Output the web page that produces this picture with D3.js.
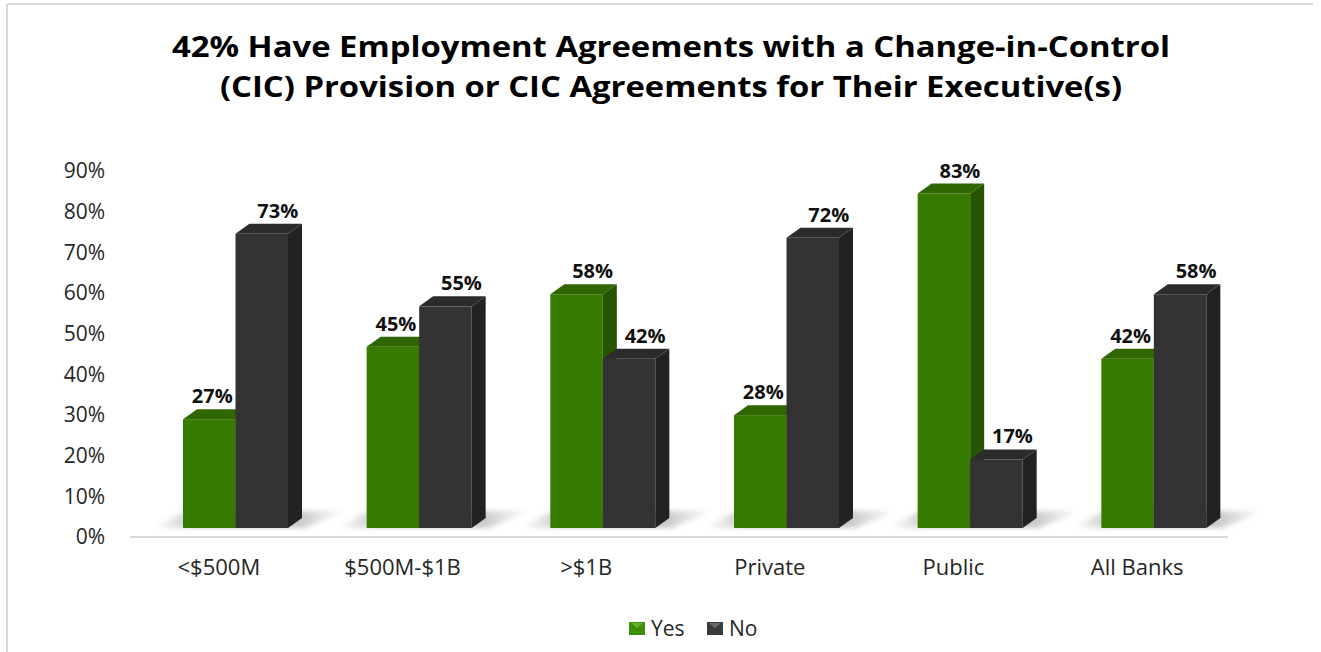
<!DOCTYPE html>
<html>
<head>
<meta charset="utf-8">
<script src="https://cdn.jsdelivr.net/npm/d3@7"></script>
<style>
  body { margin: 0; background: #fff; }
  svg { display: block; font-family: "Open Sans", "DejaVu Sans", sans-serif; }
</style>
</head>
<body>
<svg id="chart" width="1321" height="652"></svg>
<script>
// Chart data
const categories = ["<$500M", "$500M-$1B", ">$1B", "Private", "Public", "All Banks"];
const seriesNames = ["Yes", "No"];
const yesValues = [27, 45, 58, 28, 83, 42];
const noValues = [73, 55, 42, 72, 17, 58];
const tickValues = [0, 10, 20, 30, 40, 50, 60, 70, 80, 90];
const titleLines = [
  "42% Have Employment Agreements with a Change-in-Control",
  "(CIC) Provision or CIC Agreements for Their Executive(s)"
];

// Face colours for each series: front, top, side
const palette = {
  Yes: { front: "#377a00", top: "#2f6600", side: "#275400", legend: "#3c8f0a", legendTop: "#62b12a" },
  No:  { front: "#333333", top: "#2b2b2b", side: "#222222", legend: "#3a3a3a", legendTop: "#6a6a6a" }
};

const svg = d3.select("#chart");
const W = 1321, H = 652;

// Outer frame (top and left edges)
svg.append("line").attr("x1", 7).attr("x2", 1313).attr("y1", 4).attr("y2", 4)
  .attr("stroke", "#d9d9d9").attr("stroke-width", 2);
svg.append("line").attr("x1", 7).attr("x2", 7).attr("y1", 4).attr("y2", H)
  .attr("stroke", "#d9d9d9").attr("stroke-width", 2);

// Title
const titleG = svg.append("g").attr("font-weight", 700).attr("fill", "#000")
  .attr("font-size", 29).attr("text-anchor", "middle");
titleG.selectAll("text").data(titleLines).join("text")
  .attr("x", 671)
  .attr("y", (d, i) => 57 + i * 40)
  .attr("textLength", (d, i) => i === 0 ? 998 : 902)
  .attr("lengthAdjust", "spacingAndGlyphs")
  .text(d => d);

// Scales
const x = d3.scaleBand().domain(categories).range([127, 1229]);
const xInner = d3.scaleBand().domain(seriesNames).range([0, 105]);
const yAxisScale = d3.scaleLinear().domain([0, 90]).range([537, 171]);
const yBar = d3.scaleLinear().domain([0, 90]).range([528, 165.3]);
const depthX = 14, depthY = -10;
const groupShift = 56;

const rows = categories.map((c, i) => ({
  cat: c,
  vals: [
    { s: "Yes", v: yesValues[i], other: noValues[i] },
    { s: "No", v: noValues[i], other: yesValues[i] }
  ]
}));

// Y axis labels
const axisG = svg.append("g")
  .attr("transform", "translate(105,0)")
  .call(d3.axisLeft(yAxisScale).tickValues(tickValues).tickFormat(d => d + "%").tickSize(0).tickPadding(0));
axisG.select(".domain").remove();
axisG.selectAll("text").attr("font-size", 21).attr("fill", "#262626")
  .attr("font-family", "\"Open Sans\", sans-serif");

// Baseline
svg.append("line")
  .attr("x1", 130).attr("x2", 1228)
  .attr("y1", yAxisScale(0)).attr("y2", yAxisScale(0))
  .attr("stroke", "#d9d9d9").attr("stroke-width", 2);

// X axis category labels
const xAxisG = svg.append("g")
  .attr("transform", "translate(0,559)")
  .call(d3.axisBottom(x).tickSize(0).tickPadding(0));
xAxisG.select(".domain").remove();
xAxisG.selectAll("text").attr("font-size", 22).attr("fill", "#262626")
  .attr("font-family", "\"Open Sans\", sans-serif");

// Floor shadow under each group
const defs = svg.append("defs");
defs.append("filter").attr("id", "soft")
  .attr("x", "-20%").attr("y", "-50%").attr("width", "140%").attr("height", "200%")
  .append("feGaussianBlur").attr("stdDeviation", 2.5);
const sg = defs.append("linearGradient").attr("id", "shadeGrad")
  .attr("x1", "0").attr("x2", "1").attr("y1", "0").attr("y2", "0");
[[0, 0], [0.22, 0.55], [0.75, 0.55], [1, 0]].forEach(([o, a]) =>
  sg.append("stop").attr("offset", o).attr("stop-color", "#9a9a9a").attr("stop-opacity", a));

const base = yBar(0);
svg.append("g").selectAll("polygon").data(rows).join("polygon")
  .attr("filter", "url(#soft)")
  .attr("fill", "url(#shadeGrad)")
  .attr("points", d => {
    const L = x(d.cat) + groupShift;
    const R = L + xInner.range()[1] + depthX;
    return [[L - 30, base], [R + 2, base], [R + 44, base - 17], [L + 2, base - 17]]
      .map(p => p.join(",")).join(" ");
  });

// 3D bars
const groups = svg.append("g").selectAll("g").data(rows).join("g")
  .attr("transform", d => `translate(${x(d.cat) + groupShift},0)`);

const bw = xInner.bandwidth();
const bars = groups.selectAll("g.bar").data(d => d.vals).join("g").attr("class", "bar");

bars.append("rect")
  .attr("x", d => xInner(d.s))
  .attr("y", d => yBar(d.v))
  .attr("width", bw)
  .attr("height", d => base - yBar(d.v))
  .attr("fill", d => palette[d.s].front);

bars.append("polygon")
  .attr("fill", d => palette[d.s].side)
  .attr("points", d => {
    const x0 = xInner(d.s) + bw, t = yBar(d.v);
    return [[x0, t], [x0 + depthX, t + depthY], [x0 + depthX, base + depthY], [x0, base]]
      .map(p => p.join(",")).join(" ");
  });

bars.append("polygon")
  .attr("fill", d => palette[d.s].top)
  .attr("points", d => {
    const x0 = xInner(d.s), t = yBar(d.v);
    return [[x0, t], [x0 + depthX, t + depthY], [x0 + bw + depthX, t + depthY], [x0 + bw, t]]
      .map(p => p.join(",")).join(" ");
  });

// Value labels: a shorter left bar keeps its label tucked to the left
bars.append("text")
  .attr("x", d => xInner(d.s) + bw / 2 + ((d.s === "Yes" && d.v < d.other) ? 3 : 16))
  .attr("y", d => yBar(d.v) + depthY - 6)
  .attr("text-anchor", "middle")
  .attr("font-size", 20)
  .attr("font-weight", 700)
  .attr("fill", "#111")
  .text(d => d.v + "%");

// Legend
const legendItems = [
  { s: "Yes", x: 629 },
  { s: "No", x: 707 }
];
const lg = svg.append("g").selectAll("g").data(legendItems).join("g")
  .attr("transform", d => `translate(${d.x},622)`);
lg.append("rect").attr("width", 16).attr("height", 13).attr("fill", d => palette[d.s].legend);
lg.append("polygon").attr("points", "2,1 14,1 8,6").attr("fill", d => palette[d.s].legendTop);
lg.append("text").attr("x", 22).attr("y", 14)
  .attr("font-size", 21).attr("fill", "#262626")
  .text(d => d.s);
</script>
</body>
</html>
